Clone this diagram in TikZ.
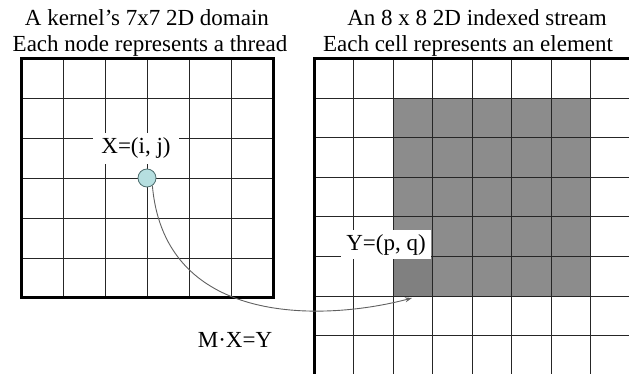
\documentclass[tikz,border=0pt]{standalone}
\usepackage{fontspec}
\setmainfont{Liberation Serif}
\usetikzlibrary{arrows.meta}

\definecolor{cellgray}{HTML}{8C8C8C}
\definecolor{celldark}{HTML}{808080}
\definecolor{nodefill}{HTML}{B6DFE0}
\definecolor{nodeedge}{HTML}{4F6F70}

\begin{document}
\begin{tikzpicture}[
  x=1pt, y=-1pt,
  every node/.style={font=\fontsize{23}{27}\selectfont},
  gridline/.style={line width=1pt, black!85},
  frame/.style={line width=3pt, black},
  lbl/.style={fill=white, inner xsep=8pt, inner ysep=5pt},
  link/.style={-{Stealth[length=7pt, width=5pt]}, line width=0.9pt, gray!75!black},
  thr/.style={circle, draw=nodeedge, fill=nodefill, line width=0.8pt, minimum size=18pt, inner sep=0pt}
]
\useasboundingbox (0,0) rectangle (629,374);
\clip (0,0) rectangle (629,374);

% ---------- Kernel domain (7x7 nodes) ----------
\def\lx{21} \def\ly{59} \def\lw{42} \def\lh{39.83}
\foreach \i in {1,...,5} {
  \draw[gridline] (\lx+\i*\lw, \ly) -- ++(0, 6*\lh);
  \draw[gridline] (\lx, \ly+\i*\lh) -- ++(6*\lw, 0);
}
\draw[frame] (\lx,\ly) rectangle (\lx+6*\lw, \ly+6*\lh);

% ---------- Indexed stream (8x8 cells) ----------
\def\rx{314} \def\ry{59} \def\rc{39.5}
\fill[cellgray] (\rx+2*\rc, \ry+\rc) rectangle (\rx+7*\rc, \ry+6*\rc);
\fill[celldark] (\rx+2*\rc, \ry+5*\rc) rectangle (\rx+3*\rc, \ry+6*\rc); % target cell
\foreach \i in {1,...,7} {
  \draw[gridline] (\rx+\i*\rc, \ry) -- ++(0, 8*\rc);
  \draw[gridline] (\rx, \ry+\i*\rc) -- ++(8*\rc, 0);
}
\draw[frame] (\rx,\ry) rectangle (\rx+8*\rc, \ry+8*\rc);

% ---------- Titles ----------
\node[anchor=base] (ktitle) at (147,26) {A kernel’s 7x7 2D domain};
\node[anchor=base] (ksub) at (150,52) {Each node represents a thread};
\node[anchor=base] (stitle) at (477,26) {An 8 x 8 2D indexed stream};
\node[anchor=base] (ssub) at (468,52) {Each cell represents an element};

% ---------- Labels ----------
\node[lbl, anchor=base] (xlbl) at (136,154) {X=(i, j)};
\node[lbl, anchor=base, inner xsep=5pt, inner ysep=4pt] (ylbl) at (386,250) {Y=(p, q)};
\node[anchor=base] (mlbl) at (235,347) {M·X=Y};

% ---------- Thread and mapping ----------
\node[thr] (thread) at (147,178) {};
\coordinate (elem) at (412,298);
\draw[link] (thread.-55) .. controls (165,330) and (330,320) .. (elem);

\end{tikzpicture}
\end{document}
